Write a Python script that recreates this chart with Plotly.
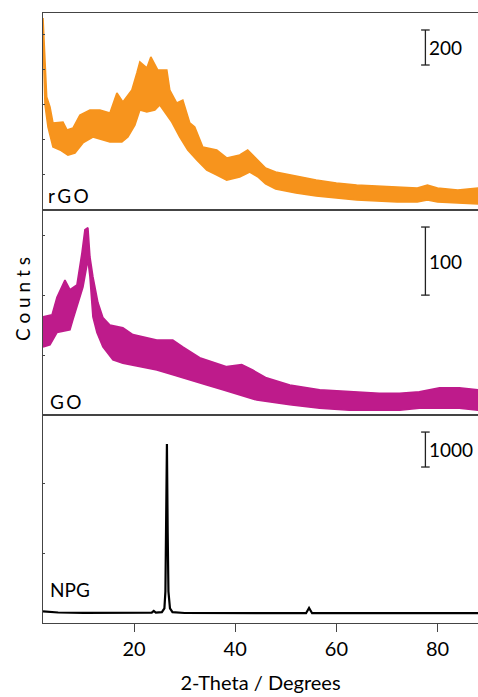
import plotly.graph_objects as go

# ---------------- data ----------------
rgo_hi_x = [2.0, 2.2, 2.73, 3.38, 3.97, 5.95, 6.74, 7.92, 9.30, 11.28, 13.25, 15.23, 16.61, 17.79,
            19.57, 20.56, 21.15, 22.53, 23.32, 24.70, 26.48, 27.07, 28.45, 29.64, 31.02, 32.0,
            33.59, 36.35, 38.32, 40.89, 42.47, 44.44, 46, 48, 52, 56, 60, 64, 68, 72, 76, 78, 80, 84, 88]
rgo_hi = [1096, 971, 645, 588, 497, 502, 457, 468, 542, 571, 571, 554, 668, 617,
          685, 782, 845, 811, 874, 799, 799, 685, 611, 628, 497, 474,
          360, 343, 297, 314, 343, 286, 240, 217, 194, 171, 154, 143, 137, 131, 126, 143, 126, 114, 126]
rgo_lo_x = [2.0, 2.2, 2.4, 2.99, 3.97, 5.36, 6.93, 8.32, 9.90, 11.87, 13.84, 15.23, 17.59, 18.78,
            20.16, 21.15, 22.53, 24.11, 25.09, 26.08, 27.46, 29.04, 30.62, 32.40, 34.37, 36.35,
            38.32, 40.89, 42.86, 44.44, 46, 48, 52, 56, 60, 64, 68, 72, 76, 78, 80, 84, 88]
rgo_lo = [990, 780, 600, 474, 360, 343, 314, 325, 383, 417, 400, 388, 388, 417,
          485, 571, 560, 571, 600, 560, 502, 417, 343, 286, 228, 200,
          171, 188, 217, 190, 150, 120, 97, 80, 69, 57, 51, 46, 46, 57, 46, 40, 34]

go_hi_x = [2.0, 3.78, 4.76, 6.34, 7.33, 8.71, 9.70, 10.29, 10.88, 11.28, 11.87, 12.86, 13.84, 15.23,
           17.79, 19.77, 21.15, 24.50, 27.66, 29.64, 32.99, 35.56, 38.32, 41.28, 43.45, 46, 50.8,
           56.7, 62.6, 68.5, 72.5, 76.4, 80.4, 84.3, 88.0]
go_hi = [144, 147, 173, 198, 184, 191, 238, 272, 275, 232, 203, 165, 143, 132,
         128, 118, 115, 110, 110, 100, 84, 78, 71, 74, 66, 55, 44,
         37, 34, 32, 32, 34, 40, 40, 37]
go_lo_x = [2.0, 3.38, 4.76, 7.33, 7.92, 8.91, 9.90, 10.88, 11.28, 11.87, 12.66, 13.84, 15.82, 17.79,
           21.15, 24.50, 27.66, 31.02, 34.37, 37.53, 40.89, 44.24, 50.8, 56.7, 62.6, 68.5, 72.5,
           76.4, 80.4, 84.3, 88.0]
go_lo = [100, 103, 121, 125, 140, 165, 188, 228, 203, 144, 121, 100, 81, 76,
         71, 66, 59, 51, 44, 37, 29, 22, 15, 10, 7, 7, 7,
         10, 10, 10, 7]

npg_x = [2.0, 5, 10, 20, 23.5, 23.9, 24.3, 25.5, 26.0, 26.2, 26.35, 26.5, 26.65, 26.8, 27.1, 27.6, 30, 40,
         54.0, 54.6, 55.2, 60, 70, 80, 88]
npg_y = [330, 300, 290, 290, 295, 343, 295, 310, 420, 900, 2600, 5120, 2600, 900, 420, 310, 286, 280,
         280, 430, 280, 280, 280, 280, 280]

sample_names = ["r\u2009G\u2009O", "G\u2009O", "NPG"]
scale_values = [200, 100, 1000]
scale_bottoms = [828, 176, 4462]
scale_x = 77.6
x_ticks = [20, 40, 60, 80]
x_range = [2, 88]
y_ranges = [[0, 1125], [0, 301], [0, 5950]]

# ---------------- figure ----------------
ORANGE = "#F7941D"
MAGENTA = "#BE1B8B"
FONT = "Lato"
fig = go.Figure()


def band(xl, yl, xh, yh, color, xa, ya):
    # closed polygon: lower envelope forward, upper envelope backward
    xs = list(xl) + list(xh)[::-1]
    ys = list(yl) + list(yh)[::-1]
    fig.add_trace(go.Scatter(x=xs, y=ys, mode="lines", fill="toself", fillcolor=color,
                             line=dict(color=color, width=1.6), xaxis=xa, yaxis=ya,
                             showlegend=False, hoverinfo="skip"))


band(rgo_lo_x, rgo_lo, rgo_hi_x, rgo_hi, ORANGE, "x", "y")
band(go_lo_x, go_lo, go_hi_x, go_hi, MAGENTA, "x2", "y2")
fig.add_trace(go.Scatter(x=npg_x, y=npg_y, mode="lines", line=dict(color="black", width=2.2),
                         xaxis="x3", yaxis="y3", showlegend=False))

h_tot = 610.0
doms = [[(610 - 197) / h_tot, 1.0], [208 / h_tot, (610 - 197) / h_tot], [0.0, 208 / h_tot]]
axline = dict(showline=True, mirror=True, linecolor="#444444", linewidth=1.3,
              showgrid=False, zeroline=False)

layout = dict(
    width=478, height=697,
    margin=dict(l=43, r=0, t=13, b=74, autoexpand=False),
    plot_bgcolor="white", paper_bgcolor="white",
    font=dict(family=FONT, color="black"),
)
dticks = [200, 88, 2000]
for i in range(3):
    xs = "" if i == 0 else str(i + 1)
    xa = dict(axline, range=x_range, domain=[0, 1], anchor="y" + xs)
    if i < 2:
        xa.update(showticklabels=False, ticks="")
    else:
        xa.update(tickvals=x_ticks, ticks="outside", ticklen=8, tickwidth=1.2, tickcolor="#444444",
                  tickfont=dict(size=20, family=FONT),
                  title=dict(text="2-Theta / Degrees", font=dict(size=20, family=FONT), standoff=16))
    ya = dict(axline, range=y_ranges[i], domain=doms[i], anchor="x" + xs,
              showticklabels=False, ticks="inside", ticklen=2, tickcolor="#444444", dtick=dticks[i])
    layout["xaxis" + xs] = xa
    layout["yaxis" + xs] = ya

fig.update_layout(**layout)

# scale bars, drawn in data coordinates
shapes = []
annots = []
for i in range(3):
    xs = "" if i == 0 else str(i + 1)
    xr, yr = "x" + xs, "y" + xs
    y0 = scale_bottoms[i]
    y1 = y0 + scale_values[i]
    cap = 0.85
    for (xa0, ya0, xa1, ya1) in [(scale_x, y0, scale_x, y1),
                                 (scale_x - cap, y0, scale_x + cap, y0),
                                 (scale_x - cap, y1, scale_x + cap, y1)]:
        shapes.append(dict(type="line", xref=xr, yref=yr, x0=xa0, y0=ya0, x1=xa1, y1=ya1,
                           line=dict(color="#222", width=1.3)))
    annots.append(dict(xref=xr, yref=yr, x=scale_x + 0.35, y=(y0 + y1) / 2, text=str(scale_values[i]),
                       showarrow=False, xanchor="left", yanchor="middle",
                       font=dict(size=19, family=FONT, color="black")))

# sample labels (bottom-left of each panel)
label_pos = [(2.6, 0.005), (3.0, 0.0), (3.0, 0.096)]
for i in range(3):
    xs = "" if i == 0 else str(i + 1)
    d0, d1 = doms[i]
    annots.append(dict(xref="x" + xs, yref="paper", x=label_pos[i][0],
                       y=d0 + label_pos[i][1] * (d1 - d0),
                       text=sample_names[i], showarrow=False, xanchor="left", yanchor="bottom",
                       font=dict(size=19, family=FONT, color="black")))

# y-axis title
annots.append(dict(xref="paper", yref="paper", x=-0.048, y=(610 - (299 - 13)) / 610,
                   text="C o u n t s", textangle=-90, showarrow=False,
                   xanchor="center", yanchor="middle", font=dict(size=19, family=FONT, color="black")))

fig.update_layout(shapes=shapes, annotations=annots)
fig.write_html("out.html", config={"displayModeBar": False},
               post_script="document.body.style.margin='0';document.body.style.overflow='hidden';")
